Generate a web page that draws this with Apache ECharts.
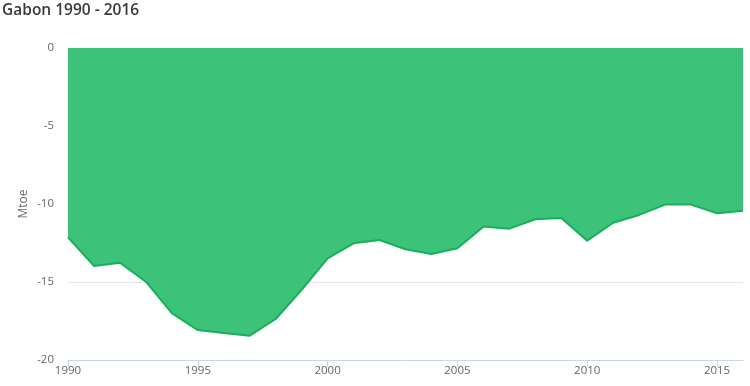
<!DOCTYPE html>
<html>
<head>
<meta charset="utf-8">
<script src="https://cdn.jsdelivr.net/npm/echarts@6/dist/echarts.min.js"></script>
<style>html,body{margin:0;padding:0;background:#fff;}#c{width:750px;height:386px;}</style>
</head>
<body>
<div id="c"></div>
<script>
const years = ['1990','1991','1992','1993','1994','1995','1996','1997','1998','1999','2000','2001','2002','2003','2004','2005','2006','2007','2008','2009','2010','2011','2012','2013','2014','2015','2016'];
const values = [-12.13,-13.97,-13.76,-14.98,-17.0,-18.08,-18.27,-18.44,-17.37,-15.5,-13.48,-12.52,-12.31,-12.9,-13.2,-12.84,-11.45,-11.58,-10.98,-10.9,-12.35,-11.2,-10.7,-10.04,-10.04,-10.6,-10.43];
const titleText = 'Gabon 1990 - 2016';
const yName = 'Mtoe';

const chart = echarts.init(document.getElementById('c'), null, {renderer: 'canvas'});
chart.setOption({
  animation: false,
  backgroundColor: '#fff',
  title: {
    text: titleText, left: 2, top: 3, padding: 0,
    textStyle: {fontFamily: 'Open Sans', fontSize: 15.5, fontWeight: 600, color: '#3a3a3a'}
  },
  grid: {left: 68, right: 7, top: 48, bottom: 26, containLabel: false},
  xAxis: {
    type: 'category', data: years, boundaryGap: false,
    axisLine: {show: true, onZero: false, lineStyle: {color: '#ccd6eb', width: 1}},
    axisTick: {show: true, interval: 4, length: 7, lineStyle: {color: '#ccd6eb'}},
    axisLabel: {interval: 4, color: '#666', fontFamily: 'Open Sans', fontSize: 11.5, margin: 5},
    splitLine: {show: false}
  },
  yAxis: {
    type: 'value', min: -20, max: 0, interval: 5,
    name: yName, nameLocation: 'middle', nameGap: 38, nameRotate: 90, nameMoveOverlap: false,
    nameTextStyle: {color: '#666', fontFamily: 'Open Sans', fontSize: 12},
    axisLine: {show: false}, axisTick: {show: false},
    axisLabel: {color: '#666', fontFamily: 'Open Sans', fontSize: 11.5, margin: 14},
    splitLine: {show: true, lineStyle: {color: '#e6e6e6', width: 1}}
  },
  series: [{
    type: 'line', data: values, symbol: 'none', smooth: false,
    lineStyle: {color: '#14b159', width: 2},
    areaStyle: {color: 'rgba(45,189,110,0.92)', opacity: 1, origin: 'end'}
  }]
});
</script>
</body>
</html>
